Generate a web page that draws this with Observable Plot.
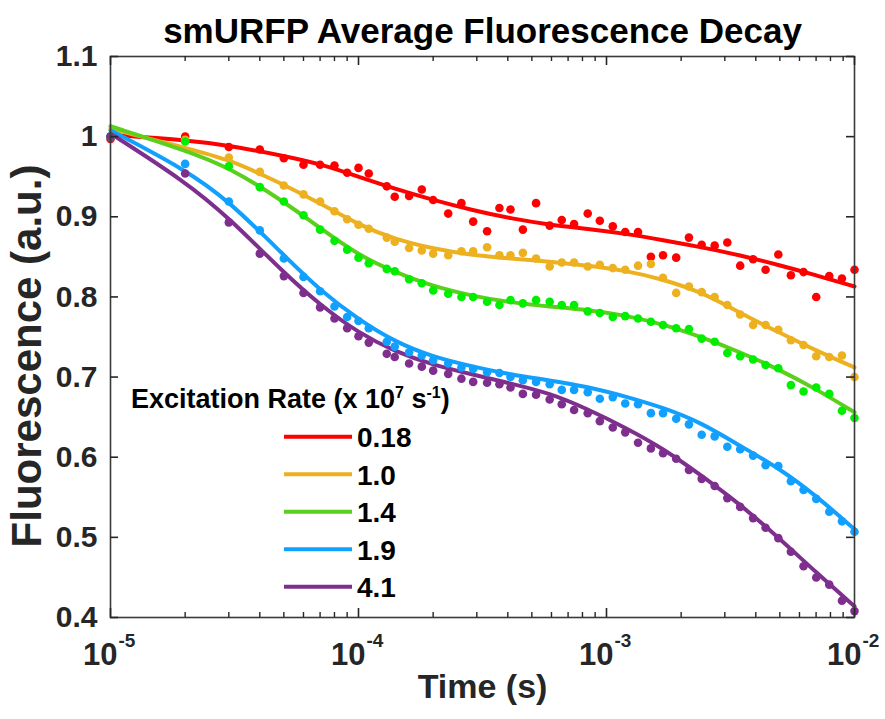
<!DOCTYPE html>
<html><head><meta charset="utf-8">
<script src="https://cdn.jsdelivr.net/npm/d3@7"></script>
<script src="https://cdn.jsdelivr.net/npm/@observablehq/plot@0.6"></script>
<style>
body{margin:0;background:#fff;}
#wrap{position:relative;width:885px;height:719px;overflow:hidden;}
#wrap svg{position:absolute;left:0;top:0;}
</style></head><body><div id="wrap"></div>
<script>
// ---- data ----
const times = [1e-5, 2e-5, 3e-5, 4e-5, 5e-5, 6e-5, 7e-5, 8e-5, 9e-5, 1e-4,
  1.1e-4, 1.3e-4, 1.4e-4, 1.6e-4, 1.8e-4, 2.0e-4, 2.3e-4, 2.6e-4, 2.9e-4,
  3.3e-4, 3.7e-4, 4.1e-4, 4.6e-4, 5.2e-4, 5.9e-4, 6.6e-4, 7.4e-4, 8.4e-4, 9.4e-4,
  1.06e-3, 1.19e-3, 1.34e-3, 1.51e-3, 1.69e-3, 1.91e-3, 2.15e-3, 2.42e-3, 2.73e-3, 3.07e-3,
  3.46e-3, 3.9e-3, 4.38e-3, 4.93e-3, 5.54e-3, 6.23e-3, 7.01e-3, 7.91e-3, 8.9e-3, 1e-2];

const rate018 = [0.997, 1.000, 0.987, 0.984, 0.973, 0.965, 0.965, 0.964, 0.955, 0.961,
  0.954, 0.938, 0.925, 0.926, 0.934, 0.921, 0.904, 0.917, 0.894, 0.882,
  0.911, 0.909, 0.884, 0.917, 0.889, 0.896, 0.891, 0.904, 0.895, 0.888,
  0.881, 0.881, 0.850, 0.852, 0.849, 0.874, 0.865, 0.864, 0.868, 0.839,
  0.847, 0.834, 0.853, 0.827, 0.831, 0.800, 0.826, 0.823, 0.834];
const rate10 = [1.000, 0.996, 0.974, 0.956, 0.939, 0.928, 0.919, 0.907, 0.897, 0.890,
  0.885, 0.874, 0.869, 0.861, 0.858, 0.854, 0.852, 0.857, 0.857, 0.862,
  0.852, 0.852, 0.855, 0.848, 0.838, 0.843, 0.843, 0.838, 0.840, 0.836,
  0.834, 0.839, 0.841, 0.824, 0.805, 0.813, 0.806, 0.800, 0.790, 0.778,
  0.765, 0.765, 0.759, 0.746, 0.740, 0.726, 0.725, 0.727, 0.700];
const rate14 = [1.000, 0.994, 0.963, 0.937, 0.919, 0.902, 0.884, 0.870, 0.859, 0.849,
  0.842, 0.835, 0.832, 0.822, 0.817, 0.808, 0.804, 0.800, 0.800, 0.794,
  0.790, 0.796, 0.792, 0.796, 0.794, 0.790, 0.790, 0.782, 0.780, 0.775,
  0.776, 0.773, 0.769, 0.765, 0.761, 0.760, 0.748, 0.744, 0.730, 0.726,
  0.722, 0.715, 0.711, 0.690, 0.682, 0.687, 0.679, 0.658, 0.649];
const rate19 = [1.000, 0.966, 0.919, 0.883, 0.848, 0.825, 0.807, 0.788, 0.775, 0.770,
  0.761, 0.744, 0.738, 0.731, 0.727, 0.721, 0.717, 0.712, 0.710, 0.706,
  0.705, 0.700, 0.696, 0.694, 0.691, 0.684, 0.684, 0.681, 0.673, 0.675,
  0.667, 0.666, 0.655, 0.655, 0.648, 0.641, 0.628, 0.626, 0.613, 0.610,
  0.602, 0.590, 0.589, 0.570, 0.559, 0.548, 0.532, 0.520, 0.507];
const rate41 = [1.000, 0.954, 0.893, 0.854, 0.826, 0.805, 0.787, 0.773, 0.761, 0.751,
  0.743, 0.729, 0.725, 0.717, 0.713, 0.708, 0.704, 0.698, 0.694, 0.693,
  0.691, 0.687, 0.679, 0.678, 0.672, 0.666, 0.659, 0.655, 0.645, 0.637,
  0.631, 0.618, 0.611, 0.605, 0.598, 0.584, 0.573, 0.564, 0.549, 0.538,
  0.524, 0.512, 0.499, 0.482, 0.464, 0.450, 0.441, 0.421, 0.408];

const fitTimes = [1e-5, 2e-5, 3e-5, 5e-5, 7e-5, 1e-4, 1.4e-4, 2e-4, 2.9e-4, 4.1e-4,
  5.9e-4, 8.4e-4, 1.19e-3, 1.69e-3, 2.42e-3, 3.46e-3, 4.93e-3, 7.01e-3, 1e-2];
const fit018 = [1.002, 0.996, 0.989, 0.976, 0.966, 0.950, 0.935, 0.921, 0.908, 0.898, 0.890, 0.885, 0.879, 0.871, 0.862, 0.852, 0.840, 0.827, 0.813];
const fit10  = [1.010, 0.986, 0.972, 0.940, 0.917, 0.890, 0.872, 0.860, 0.852, 0.848, 0.844, 0.839, 0.833, 0.822, 0.806, 0.780, 0.756, 0.733, 0.712];
const fit14  = [1.013, 0.983, 0.962, 0.919, 0.886, 0.852, 0.831, 0.813, 0.801, 0.793, 0.788, 0.784, 0.777, 0.766, 0.750, 0.731, 0.710, 0.685, 0.656];
const fit19  = [1.008, 0.959, 0.920, 0.852, 0.808, 0.772, 0.744, 0.725, 0.713, 0.703, 0.696, 0.688, 0.676, 0.662, 0.643, 0.614, 0.587, 0.552, 0.510];
const fit41  = [1.004, 0.944, 0.899, 0.830, 0.790, 0.755, 0.732, 0.715, 0.703, 0.692, 0.680, 0.660, 0.637, 0.611, 0.577, 0.541, 0.500, 0.456, 0.414];

const seriesNames = ["0.18", "1.0", "1.4", "1.9", "4.1"];
const lineColors = ["#ff0000", "#edb120", "#5bd01c", "#12a0ff", "#7e2f8e"];
const dotColors  = ["#ff0000", "#edb120", "#00ee00", "#12a0ff", "#7e2f8e"];

const xTicks = [1e-5, 1e-4, 1e-3, 1e-2];
const xTickExponents = ["-5", "-4", "-3", "-2"];
const yTicks = [0.4, 0.5, 0.6, 0.7, 0.8, 0.9, 1.0, 1.1];
const yTickLabels = ["0.4", "0.5", "0.6", "0.7", "0.8", "0.9", "1", "1.1"];
const xMinorTicks = [-5, -4, -3].flatMap(e => [2,3,4,5,6,7,8,9].map(m => m * Math.pow(10, e)));

const titleText = "smURFP Average Fluorescence Decay";
const xLabel = "Time (s)";
const yLabel = "Fluorescence (a.u.)";
const legendTitleParts = [["Excitation Rate (x 10", 0], ["7", 1], [" s", 0], ["-1", 1], [")", 0]];

// ---- tables ----
const dataVals = [rate018, rate10, rate14, rate19, rate41];
const fitVals = [fit018, fit10, fit14, fit19, fit41];
const dotRows = seriesNames.flatMap((s, k) => times.map((t, i) => ({t, v: dataVals[k][i], s, c: dotColors[k]})));
const fitRows = seriesNames.flatMap((s, k) => fitTimes.map((t, i) => ({t, v: fitVals[k][i], s, c: lineColors[k]})));

const W = 885, H = 719, mT = 56, mB = 102, mL = 110, mR = 31;
const fw = W - mL - mR, fh = H - mT - mB;
const FONT = "'Liberation Sans', Arial, Helvetica, sans-serif";
const ink = "#262626";

const chart = Plot.plot({
  width: W, height: H,
  marginTop: mT, marginBottom: mB, marginLeft: mL, marginRight: mR,
  style: {fontFamily: FONT, background: "white", overflow: "visible", color: ink},
  x: {type: "log", domain: [1e-5, 1e-2], axis: null},
  y: {domain: [0.4, 1.1], axis: null},
  marks: [
    Plot.line(fitRows, {x: "t", y: "v", z: "s", stroke: "c", strokeWidth: 4, curve: "basis"}),
    Plot.dot(dotRows, {x: "t", y: "v", fill: "c", r: 4.3, stroke: "none"}),
    Plot.frame({stroke: "#3a3a3a", strokeWidth: 1.6}),
    // inward ticks
    Plot.tickX(xTicks, {x: d => d, insetTop: fh - 9, stroke: ink, strokeWidth: 1.6}),
    Plot.tickX(xTicks, {x: d => d, insetBottom: fh - 9, stroke: ink, strokeWidth: 1.6}),
    Plot.tickX(xMinorTicks, {x: d => d, insetTop: fh - 5, stroke: ink, strokeWidth: 1.4}),
    Plot.tickX(xMinorTicks, {x: d => d, insetBottom: fh - 5, stroke: ink, strokeWidth: 1.4}),
    Plot.tickY(yTicks, {y: d => d, insetRight: fw - 8, stroke: ink, strokeWidth: 1.6}),
    Plot.tickY(yTicks, {y: d => d, insetLeft: fw - 8, stroke: ink, strokeWidth: 1.6}),
    // tick labels
    Plot.text(yTicks, {y: d => d, text: (d, i) => yTickLabels[i], frameAnchor: "left", textAnchor: "end", lineAnchor: "middle", dx: -13, fontSize: 30, fontWeight: "bold", fill: ink}),
    Plot.text(xTicks, {x: d => d, text: () => "10", frameAnchor: "bottom", textAnchor: "end", lineAnchor: "middle", dx: 7, dy: 38, fontSize: 31, fontWeight: "bold", fill: ink}),
    Plot.text(xTicks, {x: d => d, text: (d, i) => xTickExponents[i], frameAnchor: "bottom", textAnchor: "start", lineAnchor: "middle", dx: 8, dy: 23, fontSize: 19, fontWeight: "bold", fill: ink}),
    // axis labels and title
    Plot.text([xLabel], {frameAnchor: "bottom", lineAnchor: "middle", dy: 70, fontSize: 34, fontWeight: "bold", fill: ink}),
    Plot.text([yLabel], {frameAnchor: "left", textAnchor: "middle", lineAnchor: "middle", dx: -83, dy: 19, rotate: -90, fontSize: 42, fontWeight: "bold", fill: ink}),
    Plot.text([titleText], {frameAnchor: "top", lineAnchor: "middle", dy: -25, fontSize: 35, fontWeight: "bold", fill: "#000"})
  ]
});
document.getElementById("wrap").appendChild(chart);

// ---- legend (inside plot, lower left) ----
const ns = "http://www.w3.org/2000/svg";
const leg = document.createElementNS(ns, "svg");
leg.setAttribute("width", W); leg.setAttribute("height", H);
leg.style.pointerEvents = "none";
leg.setAttribute("font-family", FONT);
leg.setAttribute("font-weight", "bold");
const lt = document.createElementNS(ns, "text");
lt.setAttribute("x", 131); lt.setAttribute("y", 408); lt.setAttribute("font-size", 27); lt.setAttribute("fill", "#000");
legendTitleParts.forEach(([txt, sup]) => {
  const ts = document.createElementNS(ns, "tspan");
  ts.textContent = txt;
  if (sup) { ts.setAttribute("font-size", 16); ts.setAttribute("dy", -10); }
  else if (lt.childNodes.length) { ts.setAttribute("dy", 10); }
  lt.appendChild(ts);
});
leg.appendChild(lt);
seriesNames.forEach((name, i) => {
  const cy = 436.7 + i * 37.5;
  const ln = document.createElementNS(ns, "line");
  ln.setAttribute("x1", 284); ln.setAttribute("x2", 352);
  ln.setAttribute("y1", cy); ln.setAttribute("y2", cy);
  ln.setAttribute("stroke", lineColors[i]); ln.setAttribute("stroke-width", 4);
  leg.appendChild(ln);
  const tx = document.createElementNS(ns, "text");
  tx.setAttribute("x", 357); tx.setAttribute("y", cy + 10.5);
  tx.setAttribute("font-size", 28); tx.setAttribute("fill", "#000");
  tx.textContent = name;
  leg.appendChild(tx);
});
document.getElementById("wrap").appendChild(leg);
</script>
</body></html>
